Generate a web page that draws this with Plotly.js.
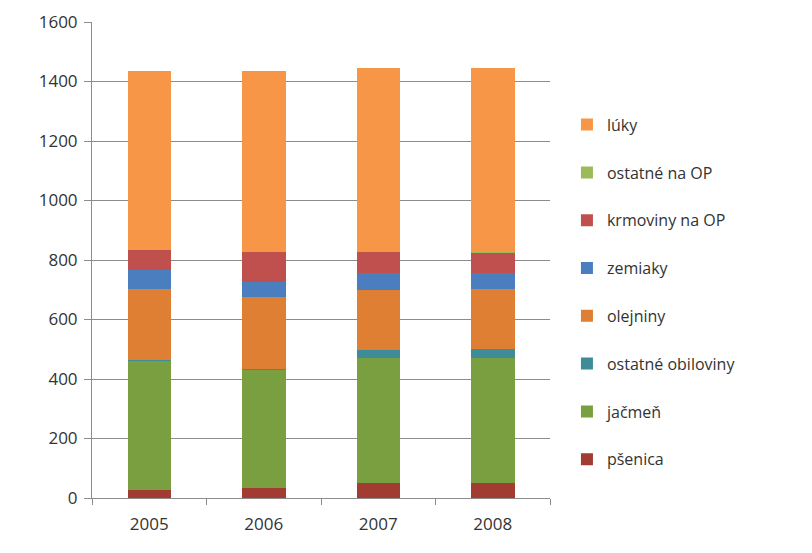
<!DOCTYPE html>
<html>
<head>
<meta charset="utf-8">
<script src="https://cdn.plot.ly/plotly-3.0.1.min.js"></script>
<style>html,body{margin:0;padding:0;background:#fff;}#chart{width:812px;height:553px;}</style>
</head>
<body>
<div id="chart"></div>
<script>
const years = ["2005", "2006", "2007", "2008"];
const seriesNames = ["pšenica", "jačmeň", "ostatné obiloviny", "olejniny", "zemiaky", "krmoviny na OP", "ostatné na OP", "lúky"];
const psenica = [27, 35, 49, 49];
const jacmen = [434, 395, 421, 421];
const ostatneObiloviny = [3, 2, 27, 30];
const olejniny = [240, 243, 202, 201];
const zemiaky = [62, 52, 56, 54];
const krmoviny = [66, 100, 71, 70];
const ostatneNaOP = [1, 1, 1, 1];
const luky = [601, 606, 619, 620];
const yTicks = [0, 200, 400, 600, 800, 1000, 1200, 1400, 1600];

const seriesValues = [psenica, jacmen, ostatneObiloviny, olejniny, zemiaky, krmoviny, ostatneNaOP, luky];
const colors = ["#A23B32", "#7A9F40", "#3D8C98", "#DE7F33", "#4A7EBF", "#C0504D", "#9BBB59", "#F79646"];

const traces = seriesNames.map((name, i) => ({
  type: "bar",
  name: name,
  x: years,
  y: seriesValues[i],
  legendgroup: "g" + i,
  legendrank: 100 - i,
  marker: {color: colors[i], line: {width: 0}},
  hoverinfo: "name+y"
}));

const layout = {
  width: 812,
  height: 553,
  margin: {l: 92, r: 262, t: 22, b: 55},
  paper_bgcolor: "#ffffff",
  plot_bgcolor: "#ffffff",
  barmode: "stack",
  bargap: 0.62,
  font: {family: "Open Sans, DejaVu Sans, sans-serif", size: 16, color: "#333333"},
  showlegend: true,
  legend: {
    x: 1.037, xanchor: "left",
    y: 0.82, yanchor: "top",
    traceorder: "grouped",
    tracegroupgap: 24,
    font: {size: 16, color: "#333333"},
    itemwidth: 30
  },
  xaxis: {
    type: "category",
    showgrid: false,
    showline: true,
    linecolor: "#8c8c8c",
    linewidth: 1,
    ticks: "outside",
    tickson: "boundaries",
    ticklen: 6,
    tickcolor: "#8c8c8c",
    tickfont: {size: 17, color: "#333333"},
    ticklabelstandoff: 11,
    zeroline: false
  },
  yaxis: {
    range: [0, 1600],
    tickvals: yTicks,
    ticktext: yTicks.map(String),
    showgrid: true,
    gridcolor: "#8c8c8c",
    gridwidth: 1,
    showline: true,
    linecolor: "#8c8c8c",
    ticks: "outside",
    ticklen: 7,
    tickcolor: "#8c8c8c",
    tickfont: {size: 17, color: "#333333"},
    ticklabelstandoff: 3,
    zeroline: false
  }
};

Plotly.newPlot("chart", traces, layout, {displayModeBar: false, staticPlot: true});
</script>
</body>
</html>
